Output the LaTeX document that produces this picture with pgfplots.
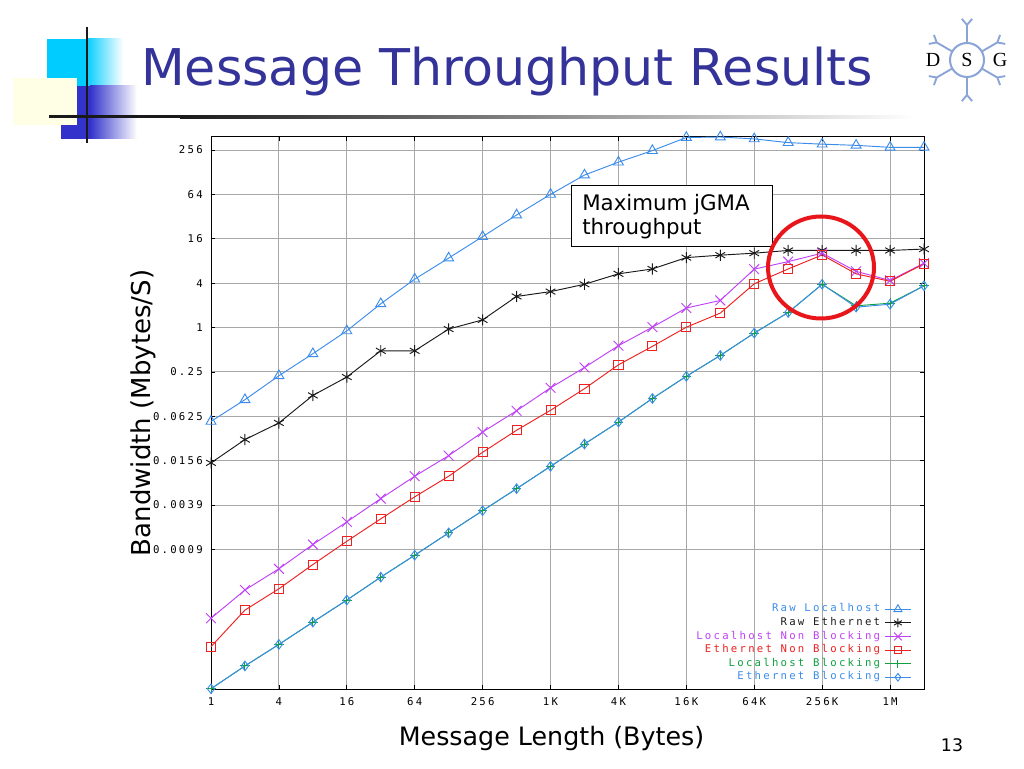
\documentclass[border=0pt]{standalone}
\usepackage{pgfplots}
\pgfplotsset{compat=1.18}
\usepackage{pgfplotstable}
\usepackage{fontspec}
\setmainfont{DejaVu Sans}
\newfontfamily\slidefont{DejaVu Sans}
\newfontfamily\gpfont[LetterSpace=21]{DejaVu Sans Mono}
\newfontfamily\logofont{Liberation Serif}
\newcommand\ticfont{\gpfont\fontsize{8}{9.5}\selectfont}

\definecolor{cRL}{HTML}{3C8DEB}
\definecolor{cRE}{HTML}{1A1A1A}
\definecolor{cLNB}{HTML}{C040F8}
\definecolor{cENB}{HTML}{EE2020}
\definecolor{cLB}{HTML}{10A040}
\definecolor{cEB}{HTML}{3C8DEB}
\definecolor{gridc}{HTML}{A8A8A8}
\definecolor{titleblue}{HTML}{333399}
\definecolor{cyanbox}{HTML}{00CCFF}
\definecolor{bluebox}{HTML}{3333CC}
\definecolor{yellowbox}{HTML}{FFFFE6}
\definecolor{logoblue}{HTML}{8AA4D8}
\definecolor{circred}{HTML}{E8161A}

% bandwidth in Mbytes/s against message length in bytes
\pgfplotstableread{
x        rl     re     lnb       enb        lb         eb
1        0.0533 0.0146 0.000114  0.0000469  0.0000126  0.0000126
2        0.105  0.0302 0.000275  0.000147   0.0000257  0.0000257
4        0.222  0.0508 0.000534  0.000286   0.0000503  0.0000503
8        0.441  0.120  0.00114   0.000610   0.000101   0.000101
16       0.901  0.213  0.00231   0.00126    0.000201   0.000201
32       2.10   0.483  0.00478   0.00254    0.000411   0.000411
64       4.53   0.483  0.00962   0.00505    0.000816   0.000816
128      8.75   0.953  0.0183    0.00962    0.00164    0.00164
256      17.1   1.27   0.0382    0.0203     0.00328    0.00328
512      33.6   2.64   0.0743    0.0404     0.00652    0.00652
1024     64.0   3.07   0.152     0.0754     0.0131     0.0131
2048     117    3.86   0.287     0.148      0.0263     0.0263
4096     175    5.35   0.567     0.312      0.0522     0.0522
8192     251    6.23   1.01      0.555      0.109      0.109
16384    378    8.88   1.84      1.01       0.218      0.218
32768    384    9.58   2.33      1.57       0.418      0.418
65536    362    10.2   6.19      3.92       0.841      0.841
131072   322    11.1   7.84      6.23       1.60       1.60
262144   307    11.1   10.2      9.65       3.86       3.86
524288   296    11.1   5.78      5.35       1.97       1.89
1048576  278    11.1   4.35      4.23       2.14       2.07
2097152  278    11.6   7.46      7.31       3.68       3.68
}\tput

\begin{document}
\begin{tikzpicture}
\useasboundingbox (0,0) rectangle (768pt,576pt);
\fill[white] (0,0) rectangle (768pt,576pt);

% slide decoration, in pixels from the top left
\begin{scope}[x=0.75pt,y=-0.75pt,shift={(0,576pt)}]
  \fill[cyanbox] (47,39) rectangle (86,86);
  \shade[left color=cyanbox, right color=white] (86,39) rectangle (123,86);
  \fill[bluebox] (61,86) rectangle (90,139);
  \shade[left color=bluebox, right color=white] (90,86) rectangle (137,139);
  \fill[yellowbox] (13,78) rectangle (77,125);
  \fill[black!90] (49,115.5) rectangle (180,118.5);
  \shade[left color=black!90, right color=white] (180,115.5) rectangle (915,118.5);
  \draw[black!90, line width=2.2pt] (87,27) -- (87,143);
  \node[anchor=base west, inner sep=0pt, text=titleblue,
        font=\slidefont\fontsize{38}{40}\selectfont] at (141,86) {Message Throughput Results};
  % DSG logo
  \begin{scope}[shift={(967,60)}]
    \draw[logoblue, line width=1.5pt] (0,0) circle (17);
    \foreach \a in {30,90,150,210,270,330} {
      \draw[logoblue, line width=1.4pt] (\a:17) -- (\a:35)
        -- ++({\a+40}:8);
      \draw[logoblue, line width=1.4pt] (\a:35) -- ++({\a-40}:8);
    }
    \foreach \s/\p in {D/-34,S/0,G/33}
      \node[font=\logofont\fontsize{15}{15}\selectfont] at (\p,0) {\s};
  \end{scope}
  \node[font=\slidefont\fontsize{13}{15}\selectfont] at (952,745) {13};
\end{scope}

\begin{axis}[
  at={(158.25pt,59.25pt)}, anchor=south west,
  scale only axis, width=534.75pt, height=414pt,
  xmode=log, ymode=log, log basis x=2, log basis y=2,
  xmin=1, xmax=2097152, ymin=1.25e-5, ymax=384,
  xtick={1,4,16,64,256,1024,4096,16384,65536,262144,1048576},
  xticklabels={1,4,16,64,256,1K,4K,16K,64K,256K,1M},
  ytick={0.0009765625,0.00390625,0.015625,0.0625,0.25,1,4,16,64,256},
  yticklabels={0.0009,0.0039,0.0156,0.0625,0.25,1,4,16,64,256},
  grid=major, major grid style={gridc, line width=0.7pt},
  tick align=inside, major tick length=3pt,
  tick style={black, line width=0.6pt},
  axis line style={black, line width=0.75pt},
  xticklabel style={font=\ticfont, inner sep=0pt, yshift=-6pt},
  yticklabel style={font=\ticfont, inner sep=0pt, xshift=-6pt},
  xlabel={Message Length (Bytes)},
  ylabel={Bandwidth (Mbytes/S)},
  xlabel style={at={(axis description cs:0.4776,-0.0888)}, anchor=center,
                font=\slidefont\fontsize{19}{22}\selectfont},
  ylabel style={at={(axis description cs:-0.0954,0.5)}, anchor=center,
                font=\slidefont\fontsize{19.5}{22}\selectfont},
  clip=false,
  legend style={at={(1,0)}, anchor=south east, xshift=-6pt, yshift=1.5pt,
                draw=none, fill=none, font=\ticfont, row sep=0pt,
                nodes={inner ysep=1.3pt, inner xsep=3pt, text height=5.8pt, text depth=1.8pt}},
  legend cell align=right,
  legend plot pos=right,
  legend image code/.code={\draw[mark repeat=2,mark phase=2,#1,
      every mark/.append style={scale=0.8}]
      plot coordinates {(0pt,0pt) (10pt,0pt) (20pt,0pt)};},
]
\addplot[cRL, line width=0.7pt, mark=triangle, mark size=4.3pt,
         mark options={solid}] table[x=x, y=rl] {\tput};
\addlegendentry{\textcolor{cRL}{Raw Localhost}}
\addplot[cRE, line width=0.7pt, mark=asterisk, mark size=4.2pt,
         mark options={solid}] table[x=x, y=re] {\tput};
\addlegendentry{\textcolor{cRE}{Raw Ethernet}}
\addplot[cLNB, line width=0.7pt, mark=x, mark size=5.2pt,
         mark options={solid}] table[x=x, y=lnb] {\tput};
\addlegendentry{\textcolor{cLNB}{Localhost Non Blocking}}
\addplot[cENB, line width=0.7pt, mark=square, mark size=3.4pt,
         mark options={solid}] table[x=x, y=enb] {\tput};
\addlegendentry{\textcolor{cENB}{Ethernet Non Blocking}}
\addplot[cLB, line width=0.7pt, mark=+, mark size=3.6pt,
         mark options={solid}] table[x=x, y=lb] {\tput};
\addlegendentry{\textcolor{cLB}{Localhost Blocking}}
\addplot[cEB, line width=0.7pt, mark=diamond, mark size=3.6pt,
         mark options={solid}] table[x=x, y=eb] {\tput};
\addlegendentry{\textcolor{cEB}{Ethernet Blocking}}
\end{axis}

% annotation box and highlight circle
\begin{scope}[x=0.75pt,y=-0.75pt,shift={(0,576pt)}]
  \draw[black, line width=0.75pt, fill=white] (571,186) rectangle (772,247);
  \node[anchor=base west, inner sep=0pt, font=\slidefont\fontsize{16}{18}\selectfont]
    at (582,211) {Maximum jGMA};
  \node[anchor=base west, inner sep=0pt, font=\slidefont\fontsize{16}{18}\selectfont]
    at (582,235) {throughput};
  \draw[circred, line width=3pt] (821,267.5) ellipse (53 and 51);
\end{scope}
\end{tikzpicture}
\end{document}
